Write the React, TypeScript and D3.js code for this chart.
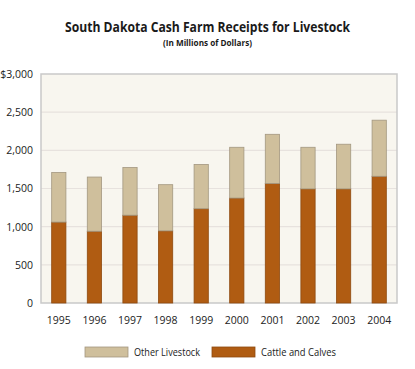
import React, { useEffect, useRef } from "react";
import * as d3 from "d3";

const years = ["1995", "1996", "1997", "1998", "1999", "2000", "2001", "2002", "2003", "2004"];
const cattle = [1060, 940, 1150, 945, 1235, 1375, 1565, 1495, 1495, 1660];
const other = [650, 710, 625, 605, 580, 665, 645, 545, 585, 735];
const yTicks = [0, 500, 1000, 1500, 2000, 2500, 3000];
const seriesNames = ["Other Livestock", "Cattle and Calves"];

const font = "'Open Sans', 'DejaVu Sans', sans-serif";

export default function App() {
  const ref = useRef<SVGSVGElement>(null);

  useEffect(() => {
    const svg = d3.select(ref.current);
    svg.selectAll("*").remove();

    const margin = { top: 74, left: 41, right: 18, bottom: 66 };
    const W = 415, H = 369;
    const w = W - margin.left - margin.right;
    const h = H - margin.top - margin.bottom;

    const x = d3.scaleBand().domain(years).range([0, w]).paddingInner(0.6).paddingOuter(0.3);
    const y = d3.scaleLinear().domain([0, 3000]).range([h, 0]);

    svg.append("rect").attr("width", W).attr("height", H).attr("fill", "#ffffff");

    // title, squeezed to the width of the narrower original face
    svg.append("text").attr("x", 65).attr("y", 32)
      .attr("textLength", 285).attr("lengthAdjust", "spacingAndGlyphs")
      .attr("font-family", font).attr("font-weight", "bold").attr("font-size", 14)
      .attr("fill", "#1a1a1a").text("South Dakota Cash Farm Receipts for Livestock");
    svg.append("text").attr("x", 163).attr("y", 46)
      .attr("textLength", 89).attr("lengthAdjust", "spacingAndGlyphs")
      .attr("font-family", font).attr("font-weight", "bold").attr("font-size", 9)
      .attr("fill", "#1a1a1a").text("(In Millions of Dollars)");

    const g = svg.append("g").attr("transform", `translate(${margin.left},${margin.top})`);

    g.append("rect").attr("width", w).attr("height", h).attr("fill", "#f8f6ef");

    g.selectAll(".grid").data(yTicks.slice(1, -1)).join("line").attr("class", "grid")
      .attr("x1", 0).attr("x2", w).attr("y1", d => y(d)).attr("y2", d => y(d))
      .attr("stroke", "#e7e2de").attr("stroke-width", 1.2);

    g.append("rect").attr("width", w).attr("height", h).attr("fill", "none")
      .attr("stroke", "#c9c9c9").attr("stroke-width", 1.5);

    const yAxis = g.append("g").call(d3.axisLeft(y).tickValues(yTicks).tickSize(0).tickPadding(8)
      .tickFormat(d => (+d === 3000 ? "$" : "") + d3.format(",")(+d)));
    yAxis.select(".domain").remove();
    yAxis.selectAll("text").attr("font-family", font).attr("font-size", 10.5).attr("fill", "#222");

    const xAxis = g.append("g").attr("transform", `translate(0,${h})`)
      .call(d3.axisBottom(x).tickSize(0).tickPadding(14));
    xAxis.select(".domain").remove();
    xAxis.selectAll("text").attr("font-family", font).attr("font-size", 10.5).attr("fill", "#222");

    g.selectAll(".cattle").data(years).join("rect").attr("class", "cattle")
      .attr("x", d => x(d)!).attr("width", x.bandwidth())
      .attr("y", (d, i) => y(cattle[i])).attr("height", (d, i) => h - y(cattle[i]))
      .attr("fill", "#b05c12").attr("stroke", "#8e4a10").attr("stroke-width", 0.8);

    g.selectAll(".other").data(years).join("rect").attr("class", "other")
      .attr("x", d => x(d)!).attr("width", x.bandwidth())
      .attr("y", (d, i) => y(cattle[i] + other[i])).attr("height", (d, i) => y(cattle[i]) - y(cattle[i] + other[i]))
      .attr("fill", "#cfbf9c").attr("stroke", "#a39780").attr("stroke-width", 0.8);

    const legend = [
      { name: seriesNames[0], fill: "#cfbf9c", stroke: "#a39780", x: 85, len: 66 },
      { name: seriesNames[1], fill: "#b05c12", stroke: "#8e4a10", x: 212, len: 75 },
    ];
    const lg = svg.append("g");
    lg.selectAll("rect").data(legend).join("rect")
      .attr("x", d => d.x).attr("y", 347).attr("width", 43).attr("height", 10)
      .attr("fill", d => d.fill).attr("stroke", d => d.stroke).attr("stroke-width", 0.8);
    lg.selectAll("text").data(legend).join("text")
      .attr("x", d => d.x + 49).attr("y", 356)
      .attr("textLength", d => d.len).attr("lengthAdjust", "spacingAndGlyphs")
      .attr("font-family", font).attr("font-size", 10.5).attr("fill", "#222")
      .text(d => d.name);
  }, []);

  return <svg ref={ref} width={415} height={369} style={{ display: "block", position: "absolute", left: 0, top: 0 }} />;
}
